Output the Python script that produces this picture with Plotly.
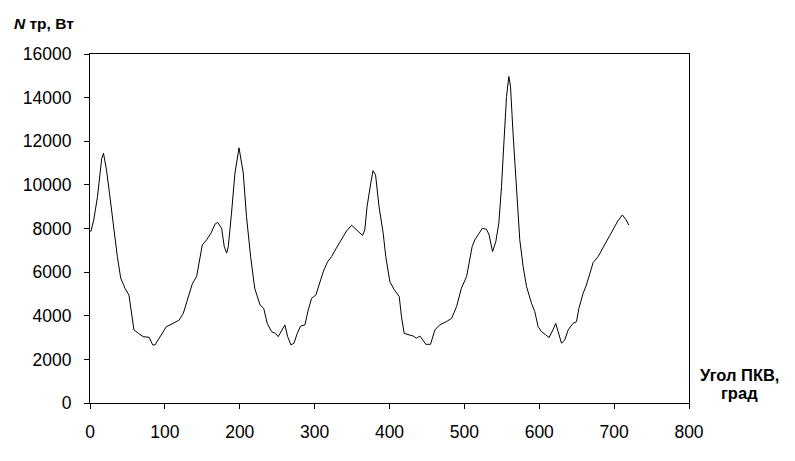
import plotly.graph_objects as go

angle = [1, 5, 10, 15.6, 18, 22, 26, 31, 36.5, 41, 46.7, 52, 55.6, 58.7, 64.5, 71, 79, 83.7, 86.8,
         93.5, 102, 111, 119, 124.6, 131, 136.6, 142.4, 146, 150, 155.8, 161.5, 167, 170.5, 175.8,
         179.3, 182.5, 184.7, 189, 193.6, 199, 204.7, 209, 214.5, 220, 227, 232, 236.7, 242.5, 248,
         251.4, 256, 260.3, 264, 268.4, 272.4, 276.8, 281.3, 287, 291.5, 296, 301.7, 307, 311.5,
         317.3, 322.6, 329, 336, 342.7, 349.4, 356, 364, 367, 370, 375, 378, 381.4, 386, 391.6, 395,
         400.5, 406, 413, 416, 419.6, 425, 431.6, 436, 440.6, 448.6, 454.8, 460.6, 467, 476, 482.9,
         489.6, 496, 503, 506.4, 510.4, 514, 519.8, 524, 529.6, 533, 537.6, 542, 546, 549.6, 553,
         556.3, 559.4, 561.6, 565, 569.6, 574, 578.5, 583, 589.7, 594, 598.5, 603, 608.8, 613.2,
         618.6, 622, 625.2, 629.7, 634, 638.6, 645, 649.7, 653, 658.6, 663, 667.6, 672, 678.6, 685,
         692, 698.6, 705, 711, 715.6, 719.6]
power = [7850, 8390, 9460, 11200, 11450, 10690, 9620, 8090, 6710, 5730, 5260, 4950, 4110, 3350,
         3200, 3040, 3010, 2660, 2660, 3040, 3500, 3650, 3800, 4110, 4800, 5460, 5800, 6560, 7250,
         7480, 7780, 8200, 8280, 8010, 7170, 6870, 7170, 8700, 10540, 11700, 10540, 8550, 6710,
         5260, 4500, 4340, 3650, 3270, 3190, 3040, 3350, 3580, 3040, 2660, 2740, 3190, 3530, 3580,
         4270, 4800, 4950, 5560, 6020, 6480, 6710, 7100, 7520, 7890, 8150, 7940, 7680, 7940, 9000,
         10080, 10650, 10460, 9000, 7780, 6710, 5560, 5210, 4880, 3960, 3190, 3120, 3070, 2970,
         3070, 2690, 2690, 3350, 3580, 3730, 3880, 4420, 5260, 5800, 6410, 7170, 7480, 7780, 8010,
         7960, 7710, 6940, 7400, 8240, 9920, 12060, 14050, 14970, 14510, 12370, 9620, 7480, 6250,
         5340, 4570, 4190, 3500, 3270, 3120, 3000, 3380, 3650, 3270, 2740, 2890, 3350, 3650, 3730,
         4340, 5030, 5410, 5950, 6440, 6710, 7100, 7550, 7960, 8350, 8620, 8420, 8160]

x_ticks = [0, 100, 200, 300, 400, 500, 600, 700, 800]
y_ticks = [0, 2000, 4000, 6000, 8000, 10000, 12000, 14000, 16000]

fig = go.Figure()
fig.add_trace(go.Scatter(x=angle, y=power, mode="lines",
                         line=dict(color="black", width=1), hoverinfo="skip"))

font_main = "Liberation Sans, Arial, sans-serif"
axis_common = dict(showgrid=False, zeroline=False, showline=True, linecolor="black",
                   linewidth=1, mirror=True, ticks="outside", ticklen=5, tickcolor="black",
                   tickwidth=1, automargin=False,
                   tickfont=dict(family=font_main, size=17.5, color="black"))

fig.update_xaxes(range=[0, 800], tickvals=x_ticks, ticktext=[str(v) for v in x_ticks],
                 ticklabelstandoff=8, **axis_common)
fig.update_yaxes(range=[0, 16000], tickvals=y_ticks, ticktext=[str(v) for v in y_ticks],
                 ticklabelstandoff=9, **axis_common)

fig.add_annotation(text="<b><i>N</i> тр, Вт</b>", xref="paper", yref="paper",
                   x=-0.0776, y=1.0888, xanchor="center", yanchor="middle",
                   showarrow=False, font=dict(family=font_main, size=15.5, color="black"))
fig.add_annotation(text="<b>Угол ПКВ,</b>", xref="paper", yref="paper",
                   x=1.085, y=0.0802, xanchor="center", yanchor="middle",
                   showarrow=False, font=dict(family=font_main, size=16.5, color="black"))
fig.add_annotation(text="<b>град</b>", xref="paper", yref="paper",
                   x=1.085, y=0.0287, xanchor="center", yanchor="middle",
                   showarrow=False, font=dict(family=font_main, size=16.5, color="black"))

fig.update_layout(width=795, height=461, margin=dict(l=90, r=106, t=54, b=58),
                  plot_bgcolor="white", paper_bgcolor="white", showlegend=False,
                  hovermode=False)

fig.write_html("out.html", config={"displayModeBar": False, "staticPlot": True},
               post_script="document.body.style.margin='0';")
